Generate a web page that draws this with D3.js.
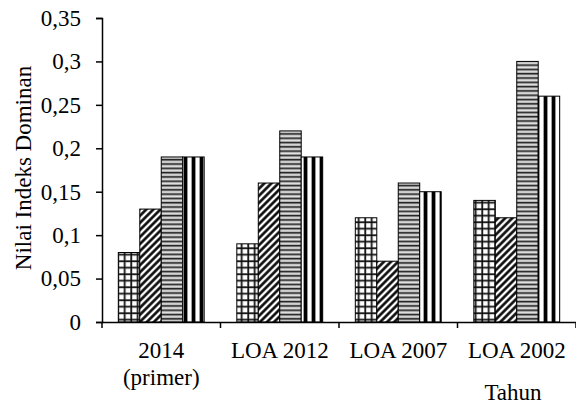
<!DOCTYPE html>
<html><head><meta charset="utf-8">
<script src="https://cdn.jsdelivr.net/npm/d3@7"></script>
<style>body{margin:0;background:#fff}svg{display:block}</style>
</head><body>
<script>
const categories = ["2014|(primer)", "LOA 2012", "LOA 2007", "LOA 2002"];
const seriesNames = ["s1", "s2", "s3", "s4"];
const s1 = [0.08, 0.09, 0.12, 0.14];
const s2 = [0.13, 0.16, 0.07, 0.12];
const s3 = [0.19, 0.22, 0.16, 0.30];
const s4 = [0.19, 0.19, 0.15, 0.26];
const yTicks = [0, 0.05, 0.1, 0.15, 0.2, 0.25, 0.3, 0.35];
const yLabel = "Nilai Indeks Dominan";
const xTitle = "Tahun";
const seriesValues = [s1, s2, s3, s4];

const W = 576, H = 405;
const svg = d3.select("body").append("svg").attr("width", W).attr("height", H);
const defs = svg.append("defs");

// patterns
const pGrid = defs.append("pattern").attr("id","pGrid").attr("patternUnits","userSpaceOnUse").attr("width",6.5).attr("height",6.5);
pGrid.append("rect").attr("width",6.5).attr("height",6.5).attr("fill","#fff");
pGrid.append("rect").attr("x",0).attr("width",2.4).attr("height",6.5).attr("fill","#999");
pGrid.append("rect").attr("y",0).attr("width",6.5).attr("height",2.4).attr("fill","#999");
pGrid.append("rect").attr("x",0.6).attr("width",1.2).attr("height",6.5).attr("fill","#000");
pGrid.append("rect").attr("y",0.6).attr("width",6.5).attr("height",1.2).attr("fill","#000");

const pDiag = defs.append("pattern").attr("id","pDiag").attr("patternUnits","userSpaceOnUse").attr("width",5).attr("height",5).attr("patternTransform","rotate(45)");
pDiag.append("rect").attr("width",5).attr("height",5).attr("fill","#fff");
pDiag.append("rect").attr("x",0).attr("width",3).attr("height",5).attr("fill","#777");
pDiag.append("rect").attr("x",0.5).attr("width",2).attr("height",5).attr("fill","#000");

const pHor = defs.append("pattern").attr("id","pHor").attr("patternUnits","userSpaceOnUse").attr("width",4).attr("height",4.3);
pHor.append("rect").attr("width",4).attr("height",4.3).attr("fill","#aaa");
pHor.append("rect").attr("y",0).attr("width",4).attr("height",1.3).attr("fill","#222");
pHor.append("rect").attr("y",2.2).attr("width",4).attr("height",1.2).attr("fill","#e6e6e6");

const pVer = defs.append("pattern").attr("id","pVer").attr("patternUnits","userSpaceOnUse").attr("width",8).attr("height",8);
pVer.append("rect").attr("width",8).attr("height",8).attr("fill","#fff");
pVer.append("rect").attr("x",0).attr("width",3.2).attr("height",8).attr("fill","#000");
pVer.append("rect").attr("x",3.2).attr("width",0.8).attr("height",8).attr("fill","#888");
pVer.append("rect").attr("x",7.2).attr("width",0.8).attr("height",8).attr("fill","#888");

const fills = ["url(#pGrid)","url(#pDiag)","url(#pHor)","url(#pVer)"];

const mLeft = 102, mRight = 576, mTop = 18, mBottom = 322;
const x0 = d3.scaleBand().domain(categories).range([mLeft, mRight]).padding(0);
const x1 = d3.scaleBand().domain(seriesNames).range([0, x0.bandwidth()]).paddingInner(0).paddingOuter(0.76);
const y = d3.scaleLinear().domain([0, 0.35]).range([mBottom, mTop]);

const font = "'Liberation Serif', 'Times New Roman', serif";
const fs = 23;

// bars
seriesNames.forEach((s, si) => {
  svg.append("g").selectAll("rect").data(categories).join("rect")
    .attr("x", c => x0(c) + x1(s))
    .attr("y", (c, i) => y(seriesValues[si][i]))
    .attr("width", x1.bandwidth())
    .attr("height", (c, i) => y(0) - y(seriesValues[si][i]))
    .attr("fill", fills[si])
    .attr("stroke", "#000").attr("stroke-width", 1);
});

// y axis
const yAxis = svg.append("g").attr("transform", `translate(${mLeft},0)`)
  .call(d3.axisLeft(y).tickValues(yTicks).tickSize(6).tickPadding(15)
    .tickFormat(d => d === 0 ? "0" : String(d).replace(".", ",")));
yAxis.select(".domain").attr("stroke","#000").attr("stroke-width",1.5);
yAxis.selectAll(".tick line").attr("stroke","#000").attr("stroke-width",1.5);
yAxis.selectAll(".tick text").attr("font-family", font).attr("font-size", fs).attr("fill","#000");

// x axis
const xAxis = svg.append("g").attr("transform", `translate(0,${mBottom})`)
  .call(d3.axisBottom(x0).tickSize(0).tickFormat(""));
xAxis.select(".domain").attr("stroke","#000").attr("stroke-width",1.5);
const bounds = categories.map(c => x0(c)).concat([mRight]);
svg.append("g").selectAll("line").data(bounds).join("line")
  .attr("x1", d => d).attr("x2", d => d).attr("y1", mBottom).attr("y2", mBottom + 6)
  .attr("stroke","#000").attr("stroke-width",1.5);

// x labels
categories.forEach(c => {
  const lines = c.split("|");
  lines.forEach((t, li) => {
    svg.append("text").attr("x", x0(c) + x0.bandwidth()/2).attr("y", 358 + li*27)
      .attr("text-anchor","middle").attr("font-family", font).attr("font-size", fs).text(t);
  });
});

svg.append("text").attr("x", 513).attr("y", 400).attr("text-anchor","middle")
  .attr("font-family", font).attr("font-size", fs).text(xTitle);

svg.append("text").attr("transform", `translate(31,168) rotate(-90)`)
  .attr("text-anchor","middle").attr("font-family", font).attr("font-size", fs).text(yLabel);
</script>
</body></html>
